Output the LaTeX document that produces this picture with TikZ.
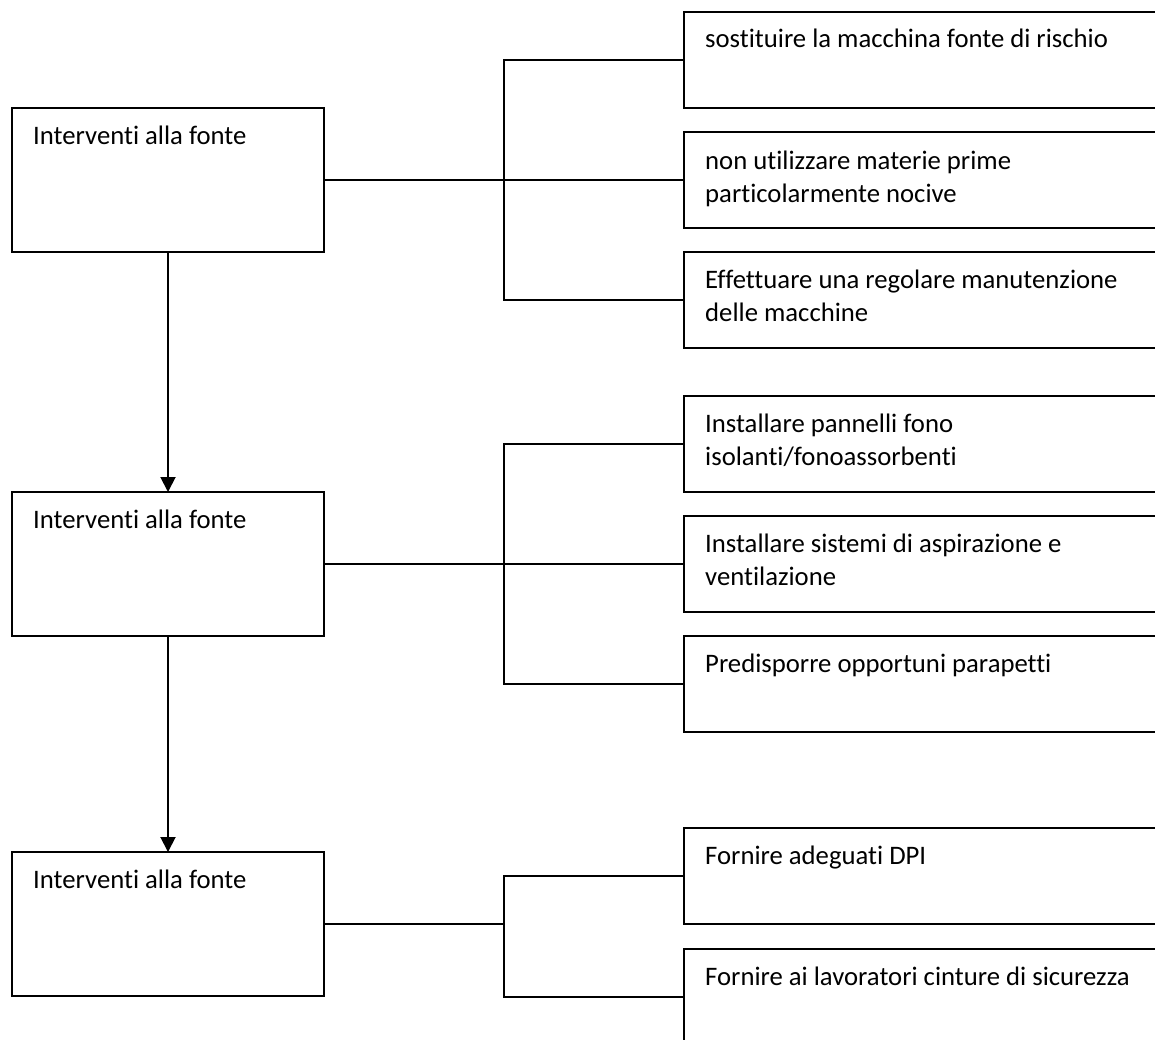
\documentclass[tikz,border=0pt]{standalone}
\usepackage{fontspec}
\setmainfont{Carlito}[Ligatures=NoCommon]
\usetikzlibrary{arrows.meta}
\tikzset{
  box/.style={draw=black, line width=1.9pt, rectangle, inner sep=0pt, outer sep=0pt, anchor=north west},
  leftbox/.style={box, minimum width=312pt, minimum height=144pt},
  rightbox/.style={box, minimum width=520pt, minimum height=96pt},
  lbl/.style={anchor=base west, inner sep=0pt, font=\fontsize{26.7}{33}\selectfont},
  link/.style={line width=1.9pt, draw=black},
  flow/.style={line width=1.9pt, draw=black, -{Triangle[width=15pt,length=15pt]}}
}
\newcommand{\ml}[1]{\begin{tabular}[t]{@{}l@{}}#1\end{tabular}}
\begin{document}
\begin{tikzpicture}[x=1pt,y=-1pt]
\useasboundingbox (0,0) rectangle (1155,1039);
\clip (0,0) rectangle (1155,1039);
\fill[white] (0,0) rectangle (1155,1039);

% left boxes
\node[leftbox] (L1) at (12,108) {};
\node[leftbox] (L2) at (12,492) {};
\node[leftbox] (L3) at (12,852) {};
\node[lbl] (t1) at (33,144) {Interventi alla fonte};
\node[lbl] (t2) at (33,528) {Interventi alla fonte};
\node[lbl] (t3) at (33,888) {Interventi alla fonte};

% right boxes
\node[rightbox] (R1) at (684,12) {};
\node[rightbox] (R2) at (684,132) {};
\node[rightbox] (R3) at (684,252) {};
\node[rightbox] (R4) at (684,396) {};
\node[rightbox] (R5) at (684,516) {};
\node[rightbox] (R6) at (684,636) {};
\node[rightbox] (R7) at (684,828) {};
\node[rightbox] (R8) at (684,949) {};

\node[lbl] (s1) at (705,47) {sostituire la macchina fonte di rischio};
\node[lbl] (s2) at (705,169) {\ml{non utilizzare materie prime\\particolarmente nocive}};
\node[lbl] (s3) at (705,288) {\ml{Effettuare una regolare manutenzione\\delle macchine}};
\node[lbl] (s4) at (705,432) {\ml{Installare pannelli fono\\isolanti/fonoassorbenti}};
\node[lbl] (s5) at (705,552) {\ml{Installare sistemi di aspirazione e\\ventilazione}};
\node[lbl] (s6) at (705,672) {Predisporre opportuni parapetti};
\node[lbl] (s7) at (705,864) {Fornire adeguati DPI};
\node[lbl] (s8) at (705,985) {Fornire ai lavoratori cinture di sicurezza};

% junctions
\coordinate (J1) at (504,180);
\coordinate (J2) at (504,564);
\coordinate (J3) at (504,924);

% group 1
\draw[link] (L1.east) -- (R2.west);
\draw[link] (R1.west) -| (J1) |- (R3.west);
% group 2
\draw[link] (L2.east) -- (R5.west);
\draw[link] (R4.west) -| (J2) |- (R6.west);
% group 3
\draw[link] (L3.east) -- (J3);
\draw[link] (R7.west) -| (J3) |- (R8.west);

% vertical flow
\draw[flow] (L1.south) -- (L2.north);
\draw[flow] (L2.south) -- (L3.north);
\end{tikzpicture}
\end{document}
